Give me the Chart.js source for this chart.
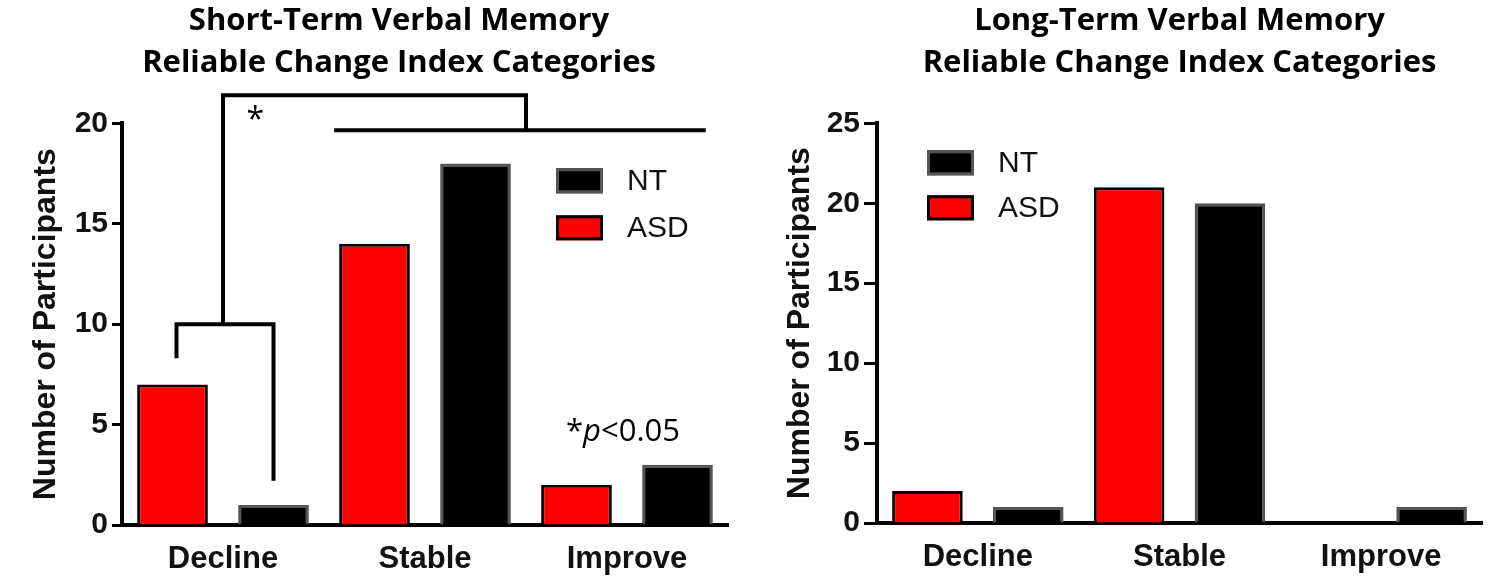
<!DOCTYPE html>
<html>
<head>
<meta charset="utf-8">
<script src="https://cdn.jsdelivr.net/npm/chart.js@4.4.0/dist/chart.umd.min.js"></script>
<style>
  html, body { margin: 0; padding: 0; background: #fff; }
  body { width: 1500px; height: 582px; position: relative; overflow: hidden; }
  canvas { position: absolute; top: 0; }
  #chartShort { left: 0; }
  #chartLong { left: 750px; }
</style>
</head>
<body>
<canvas id="chartShort" width="798" height="582"></canvas>
<canvas id="chartLong" width="750" height="582"></canvas>
<script>
// Données
const categories = ['Decline', 'Stable', 'Improve'];
const shortASD = [7, 14, 2];
const shortNT = [1, 18, 3];
const longASD = [2, 21, 0];
const longNT = [1, 20, 1];
const shortTicks = [0, 5, 10, 15, 20];
const longTicks = [0, 5, 10, 15, 20, 25];
const shortTitle = ['Short-Term Verbal Memory', 'Reliable Change Index Categories'];
const longTitle = ['Long-Term Verbal Memory', 'Reliable Change Index Categories'];

// Annotation de significativité (en unités de participants / index de catégorie)
const bracketTop = 21.4;
const bracketLow = 19.65;
const bracketSpan = [0.55, 2.39];
const declineJoin = 10;
const declineDrops = [8.3, 2.2];
const starPos = [0.16, 20.1];
const pNotePos = [1.98, 4.6];

const axisFont = 'Liberation Sans';

function makeDatasets(asd, nt) {
    return [
        { label: 'ASD', data: asd, backgroundColor: '#ff0000', borderColor: '#000000', borderWidth: 3 },
        { label: 'NT', data: nt, backgroundColor: '#000000', borderColor: '#555555', borderWidth: 3 }
    ];
}

function yAxis(tickValues, width, titlePad, tickLen) {
    return {
        min: 0,
        max: tickValues[tickValues.length - 1],
        afterBuildTicks: s => { s.ticks = tickValues.map(v => ({ value: v })); },
        ticks: { color: '#111', padding: 4, font: { family: axisFont, weight: 'bold', size: 30 } },
        grid: { display: true, drawOnChartArea: false, drawTicks: true, tickLength: tickLen, tickWidth: 3, tickColor: '#000' },
        border: { display: true, color: '#000', width: 4 },
        title: {
            display: true, text: 'Number of Participants', color: '#111',
            font: { family: axisFont, weight: 'bold', size: 32 },
            padding: { top: titlePad, bottom: 0 }
        },
        afterFit: s => { s.width = width; }
    };
}

function xAxis(height) {
    return {
        grid: { display: false },
        border: { display: true, color: '#000', width: 4 },
        ticks: { color: '#111', padding: 8, font: { family: axisFont, weight: 'bold', size: 31 } },
        afterFit: s => { s.height = height; }
    };
}

// Légende dessinée dans la zone du graphique
function insetLegend(dx, dy, gap) {
    return {
        id: 'insetLegend',
        afterDraw(chart) {
            const ctx = chart.ctx;
            const area = chart.chartArea;
            const sets = chart.data.datasets.slice().reverse();
            ctx.save();
            sets.forEach((ds, i) => {
                const x = area.left + dx;
                const y = area.top + dy + i * gap;
                ctx.fillStyle = ds.backgroundColor;
                ctx.fillRect(x, y, 47, 25);
                ctx.lineWidth = 3;
                ctx.strokeStyle = ds.borderColor;
                ctx.strokeRect(x + 1.5, y + 1.5, 44, 22);
                ctx.fillStyle = '#111';
                ctx.font = '30px "' + axisFont + '"';
                ctx.textBaseline = 'middle';
                ctx.textAlign = 'left';
                ctx.fillText(ds.label, x + 71, y + 13);
            });
            ctx.restore();
        }
    };
}

// Crochets et étoile de significativité
const sigPlugin = {
    id: 'sigBrackets',
    afterDraw(chart) {
        const ctx = chart.ctx;
        const xs = chart.scales.x;
        const ys = chart.scales.y;
        const asdBars = chart.getDatasetMeta(0).data;
        const ntBars = chart.getDatasetMeta(1).data;
        const X = v => xs.getPixelForValue(v);
        const Y = v => ys.getPixelForValue(v);
        ctx.save();
        ctx.strokeStyle = '#000';
        ctx.lineWidth = 4;
        ctx.lineJoin = 'miter';

        ctx.beginPath();
        ctx.moveTo(asdBars[0].x + 4, Y(declineDrops[0]));
        ctx.lineTo(asdBars[0].x + 4, Y(declineJoin));
        ctx.lineTo(ntBars[0].x, Y(declineJoin));
        ctx.lineTo(ntBars[0].x, Y(declineDrops[1]));
        ctx.stroke();

        ctx.beginPath();
        ctx.moveTo(X(0), Y(declineJoin));
        ctx.lineTo(X(0), Y(bracketTop));
        ctx.lineTo(X(1.5), Y(bracketTop));
        ctx.lineTo(X(1.5), Y(bracketLow));
        ctx.stroke();

        ctx.beginPath();
        ctx.moveTo(X(bracketSpan[0]), Y(bracketLow));
        ctx.lineTo(X(bracketSpan[1]), Y(bracketLow));
        ctx.stroke();

        ctx.fillStyle = '#000';
        ctx.textBaseline = 'middle';
        ctx.textAlign = 'center';
        ctx.font = '32px "Open Sans"';
        ctx.fillText('*', X(starPos[0]), Y(starPos[1]));

        // *p<0.05
        const parts = [
            { t: '*', f: '31px "Open Sans"' },
            { t: 'p', f: 'italic 31px "Open Sans"' },
            { t: '<0.05', f: '31px "Open Sans"' }
        ];
        let total = 0;
        parts.forEach(p => { ctx.font = p.f; p.w = ctx.measureText(p.t).width; total += p.w; });
        let cx = X(pNotePos[0]) - total / 2;
        const cy = Y(pNotePos[1]);
        ctx.textAlign = 'left';
        parts.forEach(p => { ctx.font = p.f; ctx.fillText(p.t, cx, cy); cx += p.w; });
        ctx.restore();
    }
};

function titleOpts(lines, fullSize) {
    return {
        display: true,
        text: lines,
        fullSize: fullSize,
        color: '#000',
        font: { family: 'Open Sans', weight: 'bold', size: 31, lineHeight: 1.36 },
        padding: { top: 0, bottom: 39 }
    };
}

new Chart(document.getElementById('chartShort'), {
    type: 'bar',
    data: { labels: categories, datasets: makeDatasets(shortASD, shortNT) },
    options: {
        responsive: false,
        animation: false,
        categoryPercentage: 1,
        barPercentage: 0.7,
        layout: { padding: 0 },
        scales: {
            x: xAxis(57),
            y: yAxis(shortTicks, 122, 27, 10),
            pad: {
                type: 'linear', position: 'right', display: true,
                grid: { display: false }, ticks: { display: false }, border: { display: false },
                afterFit: s => { s.width = 70; }
            }
        },
        plugins: {
            legend: { display: false },
            tooltip: { enabled: false },
            title: titleOpts(shortTitle, true)
        }
    },
    plugins: [insetLegend(434, 45, 47), sigPlugin]
});

new Chart(document.getElementById('chartLong'), {
    type: 'bar',
    data: { labels: categories, datasets: makeDatasets(longASD, longNT) },
    options: {
        responsive: false,
        animation: false,
        categoryPercentage: 1,
        barPercentage: 0.7,
        layout: { padding: { right: 18 } },
        scales: {
            x: xAxis(59),
            y: yAxis(longTicks, 127, 31, 13)
        },
        plugins: {
            legend: { display: false },
            tooltip: { enabled: false },
            title: titleOpts(longTitle, false)
        }
    },
    plugins: [insetLegend(50, 27, 45)]
});
</script>
</body>
</html>
